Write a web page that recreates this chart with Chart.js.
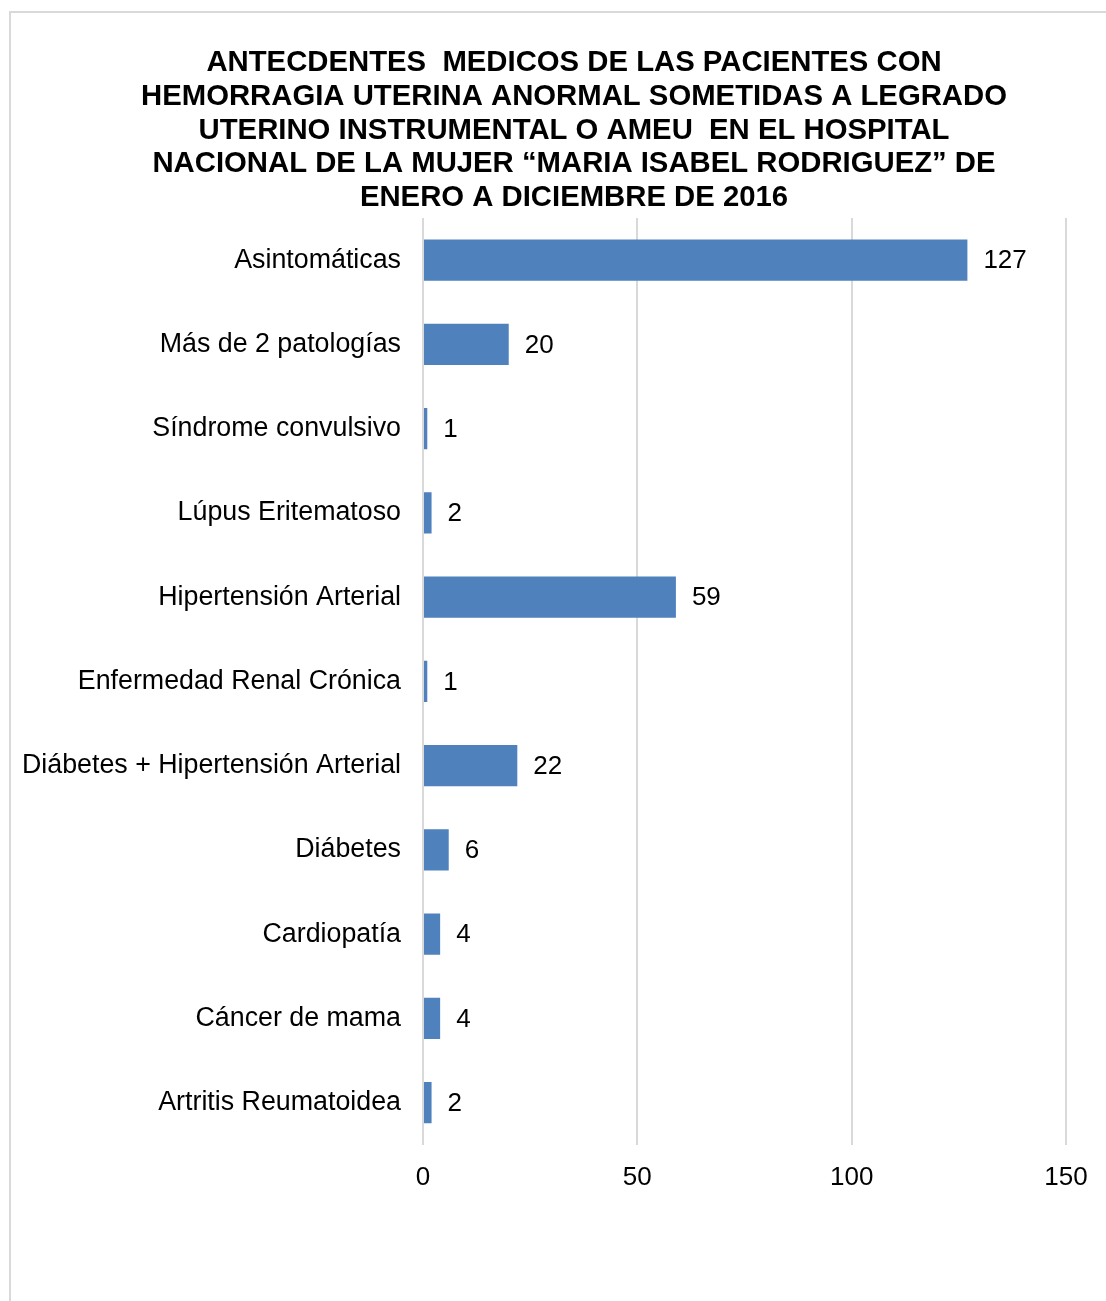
<!DOCTYPE html>
<html>
<head>
<meta charset="utf-8">
<script src="https://cdn.jsdelivr.net/npm/chart.js@4/dist/chart.umd.min.js"></script>
<style>
  html, body { margin: 0; padding: 0; background: #fff; overflow: hidden; }
  #box { position: absolute; left: 9px; top: 11px; width: 1126px; height: 1310px; border: 2px solid #d9d9d9; background: #fff; }
  canvas { display: block; }
</style>
</head>
<body>
<div id="box"><canvas id="c" width="1126" height="1310"></canvas></div>
<script>
const titleLines = [
  "ANTECDENTES  MEDICOS DE LAS PACIENTES CON",
  "HEMORRAGIA UTERINA ANORMAL SOMETIDAS A LEGRADO",
  "UTERINO INSTRUMENTAL O AMEU  EN EL HOSPITAL",
  "NACIONAL DE LA MUJER \u201CMARIA ISABEL RODRIGUEZ\u201D DE",
  "ENERO A DICIEMBRE DE 2016"
];
const categories = [
  "Asintomáticas",
  "Más de 2 patologías",
  "Síndrome convulsivo",
  "Lúpus Eritematoso",
  "Hipertensión Arterial",
  "Enfermedad Renal Crónica",
  "Diábetes + Hipertensión Arterial",
  "Diábetes",
  "Cardiopatía",
  "Cáncer de mama",
  "Artritis Reumatoidea"
];
const values = [127, 20, 1, 2, 59, 1, 22, 6, 4, 4, 2];
const xTicks = [0, 50, 100, 150];

const FONT = "'Liberation Sans', Arial, sans-serif";

const titleBlock = {
  id: 'titleBlock',
  afterDraw(chart) {
    const ctx = chart.ctx;
    ctx.save();
    ctx.font = "bold 29.3px " + FONT;
    ctx.fillStyle = "#000";
    ctx.textAlign = "center";
    ctx.textBaseline = "middle";
    titleLines.forEach((line, i) => {
      ctx.fillText(line, chart.width / 2, 50 + i * 33.75);
    });
    ctx.restore();
  }
};

const valueLabels = {
  id: 'valueLabels',
  afterDatasetsDraw(chart) {
    const ctx = chart.ctx;
    const meta = chart.getDatasetMeta(0);
    ctx.save();
    ctx.font = "26px " + FONT;
    ctx.fillStyle = "#000";
    ctx.textAlign = "left";
    ctx.textBaseline = "middle";
    meta.data.forEach((el, i) => {
      ctx.fillText(String(values[i]), el.x + 16, el.y + 1);
    });
    ctx.restore();
  }
};

new Chart(document.getElementById('c'), {
  type: 'bar',
  data: {
    labels: categories,
    datasets: [{
      data: values,
      backgroundColor: '#4f81bd',
      borderWidth: 0,
      barPercentage: 0.49,
      categoryPercentage: 1
    }]
  },
  options: {
    indexAxis: 'y',
    responsive: false,
    animation: false,
    devicePixelRatio: 1,
    layout: { padding: { left: 0, right: 71, top: 205, bottom: 113 } },
    plugins: {
      legend: { display: false },
      tooltip: { enabled: false },
      title: { display: false }
    },
    scales: {
      x: {
        min: 0,
        max: 150,
        afterBuildTicks(scale) { scale.ticks = xTicks.map(v => ({ value: v })); },
        grid: { color: '#d9d9d9', lineWidth: 2, drawTicks: false },
        border: { display: false },
        ticks: {
          color: '#000',
          font: { family: FONT, size: 26 },
          padding: 17
        }
      },
      y: {
        grid: { display: false, drawTicks: false },
        border: { display: false },
        afterFit(scale) { scale.width = 412; },
        ticks: {
          color: '#000',
          font: { family: FONT, size: 26.8 },
          padding: 22
        }
      }
    }
  },
  plugins: [valueLabels, titleBlock]
});
</script>
</body>
</html>
